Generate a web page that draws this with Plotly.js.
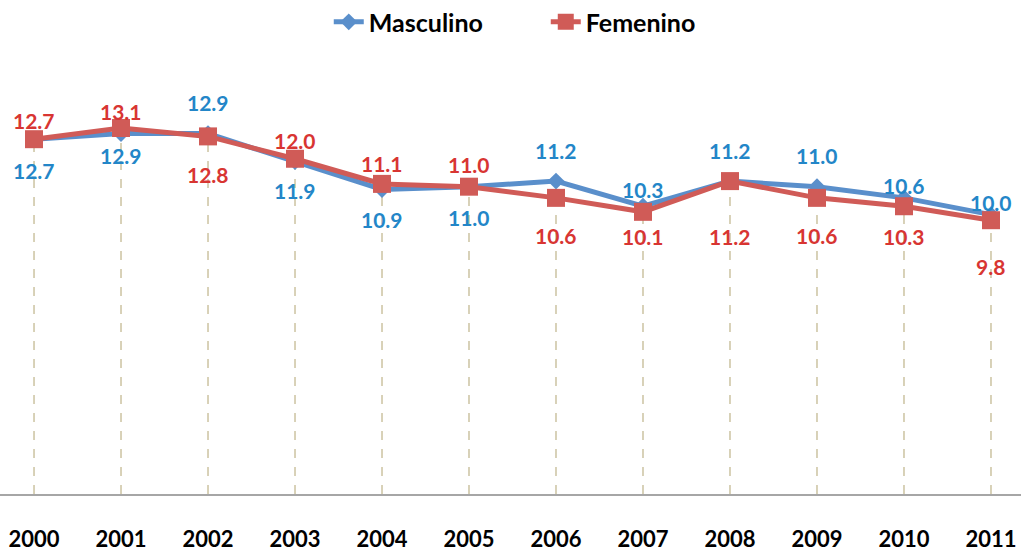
<!DOCTYPE html>
<html><head><meta charset="utf-8">
<script src="https://cdn.plot.ly/plotly-3.0.1.min.js"></script>
<style>html,body{margin:0;padding:0;background:#fff}#chart{width:1021px;height:552px}</style>
</head><body><div id="chart"></div>
<script>
var years = ['2000','2001','2002','2003','2004','2005','2006','2007','2008','2009','2010','2011'];
var masculino = [12.7,12.9,12.9,11.9,10.9,11.0,11.2,10.3,11.2,11.0,10.6,10.0];
var femenino  = [12.7,13.1,12.8,12.0,11.1,11.0,10.6,10.1,11.2,10.6,10.3,9.8];
// label offsets in pixels (positive = below point)
var mascShift = [31,22,-31,29,30,31,-31,-17,-31,-31,-12,-12];
var femShift  = [-19,-17,38,-18,-20,-22,38,25,55,38,30,46];

var blue='#5A8FCB', red='#D05B57', blueTxt='#2386C8', redTxt='#D83532';

var dropX=[], dropY=[];
years.forEach(function(y,i){dropX.push(y,y,null);dropY.push(0,Math.max(masculino[i],femenino[i]),null);});

var traces=[
 {x:dropX,y:dropY,mode:'lines',line:{color:'#BFB48A',width:1.2,dash:'dash'},showlegend:false,hoverinfo:'skip'},
 {x:years,y:masculino,name:'Masculino',mode:'lines+markers',line:{color:blue,width:5},marker:{symbol:'diamond',size:13,color:blue}},
 {x:years,y:femenino,name:'Femenino',mode:'lines+markers',line:{color:red,width:5},marker:{symbol:'square',size:18,color:red}}
];
var ann=[];
years.forEach(function(y,i){
 ann.push({xref:'x',yref:'y',x:i,y:masculino[i],text:masculino[i].toFixed(1),showarrow:false,yshift:-mascShift[i],xanchor:'center',yanchor:'middle',font:{family:'Lato',size:21,color:blueTxt,weight:'bold'}});
 ann.push({xref:'x',yref:'y',x:i,y:femenino[i],text:femenino[i].toFixed(1),showarrow:false,yshift:-femShift[i],xanchor:'center',yanchor:'middle',font:{family:'Lato',size:21,color:redTxt,weight:'bold'}});
});
var layout={
 width:1021,height:552,margin:{l:0,r:0,t:47,b:58},
 paper_bgcolor:'#fff',plot_bgcolor:'#fff',
 font:{family:'Lato',color:'#000'},
 xaxis:{type:'category',range:[-0.391,11.345],showgrid:false,zeroline:false,showline:true,linecolor:'#A6A6A6',linewidth:1.5,ticks:'',tickfont:{family:'Lato',size:22,color:'#000',weight:'bold'},ticklabelstandoff:25},
 yaxis:{range:[0,16],showticklabels:false,showline:false,showgrid:false,zeroline:false,ticks:''},
 showlegend:true,
 legend:{orientation:'h',x:0.322,xanchor:'left',y:0.96,yanchor:'middle',yref:'container',entrywidth:172,entrywidthmode:'pixels',font:{family:'Lato',size:25,color:'#000',weight:'bold'}},
 annotations:ann
};
Plotly.newPlot('chart',traces,layout,{displayModeBar:false,staticPlot:true});
</script></body></html>
